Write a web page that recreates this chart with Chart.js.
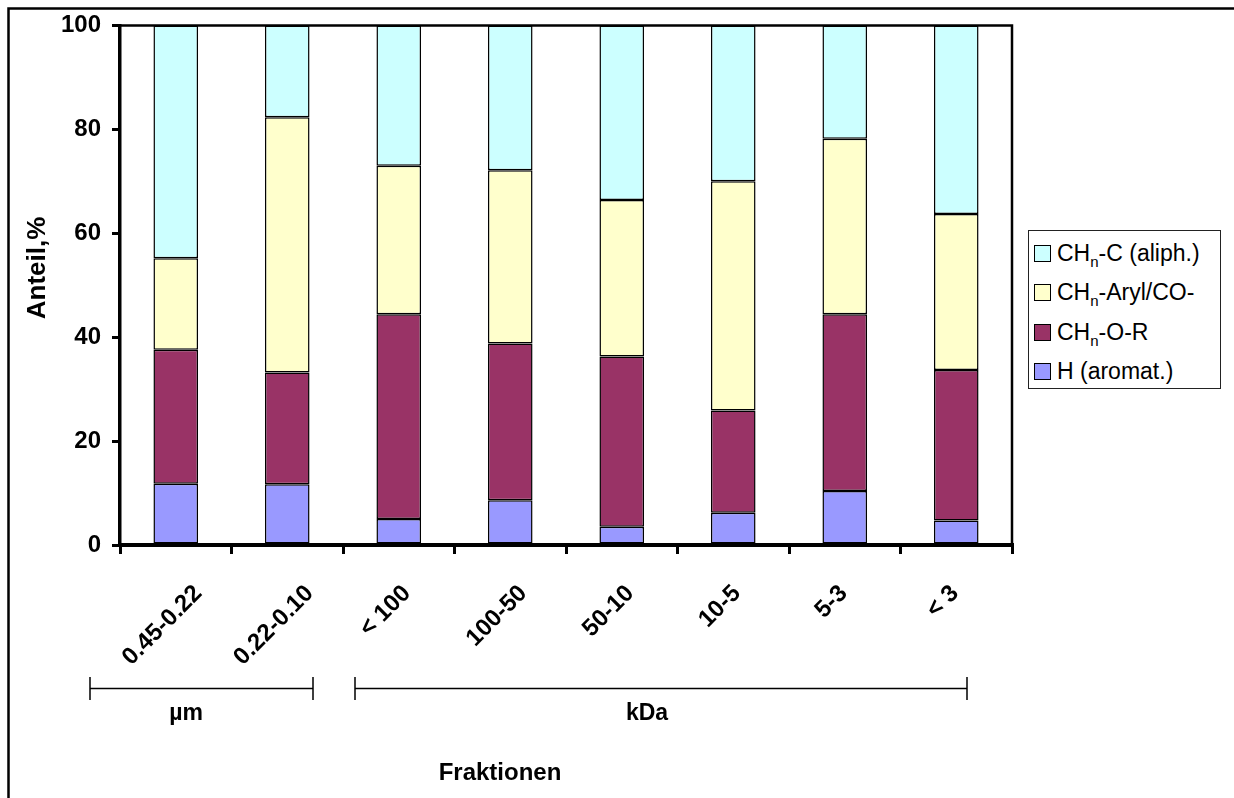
<!DOCTYPE html>
<html>
<head>
<meta charset="utf-8">
<title>Anteil der Protonentypen nach Fraktionen</title>
<script src="https://cdn.jsdelivr.net/npm/chart.js@4.4.1/dist/chart.umd.min.js"></script>
<style>
  html, body { margin: 0; padding: 0; background: #fff; }
  #wrap { position: relative; width: 1234px; height: 798px; overflow: hidden; background: #fff; }
  #c { position: absolute; left: 0; top: 0; }
  #legend {
    position: absolute; left: 1028px; top: 230px; width: 191px; height: 157px;
    border: 1px solid #222; background: #fff;
    font-family: "Liberation Sans", Arial, sans-serif; font-size: 23px; color: #000;
  }
  #legend .item { position: absolute; left: 5px; height: 24px; display: flex; align-items: center; white-space: nowrap; }
  #legend .swatch { box-sizing: border-box; width: 17px; height: 17px; border: 1.5px solid #000; margin-right: 6px; flex: none; }
  #legend sub { font-size: 15px; vertical-align: -6px; line-height: 0; }
</style>
</head>
<body>
<div id="wrap">
  <canvas id="c" width="1234" height="798"></canvas>
  <div id="legend"></div>
</div>
<script>
// Fraktionen (µm: first two, kDa: the rest)
const categories = ['0.45-0.22', '0.22-0.10', '< 100', '100-50', '50-10', '10-5', '5-3', '< 3'];

// Anteil in % for each proton type, stacked from bottom to top
const hAromat   = [11.8, 11.7,  5.0,  8.6,  3.5,  6.2, 10.4,  4.7];
const chnOR     = [25.8, 21.5, 39.4, 30.2, 32.8, 19.7, 34.0, 29.0];
const chnArylCO = [17.6, 49.1, 28.6, 33.3, 30.1, 44.1, 33.8, 30.0];
const chnCAliph = [44.8, 17.7, 27.0, 27.9, 33.6, 30.0, 21.8, 36.3];

const seriesNames = ['H (aromat.)', 'CHn-O-R', 'CHn-Aryl/CO-', 'CHn-C (aliph.)'];
const seriesColors = ['#9999FF', '#993366', '#FFFFCC', '#CCFFFF'];

const yTicks = [0, 20, 40, 60, 80, 100];

const FONT = '"Liberation Sans", Arial, sans-serif';

// category groups shown under the rotated labels
const groups = [
  { name: 'µm',  x1: 90,  x2: 313, textX: 186 },
  { name: 'kDa', x1: 355, x2: 967, textX: 647 }
];

function makeDataset(i, values) {
  return {
    label: seriesNames[i],
    data: values,
    backgroundColor: seriesColors[i],
    borderColor: '#000',
    borderWidth: 1.5,
    borderSkipped: false,
    barPercentage: 0.4,
    categoryPercentage: 1.0
  };
}

// frame, plot border, rotated category labels, group brackets and axis titles
const decorations = {
  id: 'decorations',
  afterDatasetsDraw(chart) {
    const { ctx, chartArea: a } = chart;
    ctx.save();
    ctx.strokeStyle = '#000';
    ctx.lineWidth = 2.5;
    ctx.beginPath();
    ctx.moveTo(a.left, a.top);
    ctx.lineTo(a.right, a.top);
    ctx.lineTo(a.right, a.bottom);
    ctx.stroke();
    ctx.restore();
  },
  afterDraw(chart) {
    const { ctx } = chart;
    const xs = chart.scales.x;
    ctx.save();

    // outer frame
    ctx.strokeStyle = '#000';
    ctx.lineWidth = 2.5;
    ctx.beginPath();
    ctx.moveTo(8.5, 800);
    ctx.lineTo(8.5, 8.5);
    ctx.lineTo(1240, 8.5);
    ctx.stroke();

    // rotated category labels
    ctx.fillStyle = '#000';
    ctx.font = 'bold 24px ' + FONT;
    ctx.textAlign = 'center';
    ctx.textBaseline = 'middle';
    const labelTop = 583;
    const inkH = 17;
    chart.data.labels.forEach((lab, i) => {
      const w = ctx.measureText(lab).width;
      const cx = xs.getPixelForValue(i) - 14;
      const cy = labelTop + (w + inkH) / (2 * Math.SQRT2);
      ctx.save();
      ctx.translate(cx, cy);
      ctx.rotate(-Math.PI / 4);
      ctx.fillText(lab, 0, 1);
      ctx.restore();
    });

    // group brackets
    ctx.lineWidth = 1.5;
    ctx.strokeStyle = '#000';
    groups.forEach(g => {
      ctx.beginPath();
      ctx.moveTo(g.x1, 688.5); ctx.lineTo(g.x2, 688.5);
      ctx.moveTo(g.x1, 677);   ctx.lineTo(g.x1, 700);
      ctx.moveTo(g.x2, 677);   ctx.lineTo(g.x2, 700);
      ctx.stroke();
      ctx.font = 'bold 23px ' + FONT;
      ctx.textAlign = 'center';
      ctx.textBaseline = 'middle';
      ctx.fillText(g.name, g.textX, 714);
    });

    // axis titles
    ctx.font = 'bold 24px ' + FONT;
    ctx.fillText('Fraktionen', 500, 773);
    ctx.save();
    ctx.translate(38, 268);
    ctx.rotate(-Math.PI / 2);
    ctx.font = 'bold 26px ' + FONT;
    ctx.fillText('Anteil,%', 0, 0);
    ctx.restore();

    ctx.restore();
  }
};

// HTML legend with subscript n, built from the datasets (top entry = top segment)
const htmlLegend = {
  id: 'htmlLegend',
  afterInit(chart) {
    const box = document.getElementById('legend');
    box.innerHTML = '';
    const ds = chart.data.datasets.slice().reverse();
    ds.forEach((d, i) => {
      const item = document.createElement('div');
      item.className = 'item';
      item.style.top = (10 + i * 39.6) + 'px';
      const sw = document.createElement('span');
      sw.className = 'swatch';
      sw.style.background = d.backgroundColor;
      const tx = document.createElement('span');
      tx.innerHTML = d.label.replace(/^CHn/, 'CH<sub>n</sub>');
      item.appendChild(sw);
      item.appendChild(tx);
      box.appendChild(item);
    });
  }
};

new Chart(document.getElementById('c'), {
  type: 'bar',
  data: {
    labels: categories,
    datasets: [
      makeDataset(0, hAromat),
      makeDataset(1, chnOR),
      makeDataset(2, chnArylCO),
      makeDataset(3, chnCAliph)
    ]
  },
  options: {
    responsive: false,
    animation: false,
    devicePixelRatio: 1,
    layout: { padding: { left: 0, top: 25, right: 222, bottom: 0 } },
    plugins: {
      legend: { display: false },
      tooltip: { enabled: false }
    },
    scales: {
      x: {
        stacked: true,
        offset: true,
        grid: { offset: true, drawOnChartArea: false, drawTicks: true, tickLength: 9, lineWidth: 3, color: '#000' },
        border: { display: true, color: '#000', width: 4 },
        ticks: { display: false },
        afterFit(s) { s.height = 798 - 545; }
      },
      y: {
        stacked: true,
        min: 0,
        max: 100,
        afterBuildTicks(s) { s.ticks = yTicks.map(v => ({ value: v })); },
        grid: { drawOnChartArea: false, drawTicks: true, tickLength: 8, lineWidth: 3, color: '#000' },
        border: { display: true, color: '#000', width: 3.5 },
        ticks: { color: '#000', padding: 11, font: { family: FONT, size: 24, weight: 'bold' } },
        afterFit(s) { s.width = 120; }
      }
    }
  },
  plugins: [decorations, htmlLegend]
});
</script>
</body>
</html>
